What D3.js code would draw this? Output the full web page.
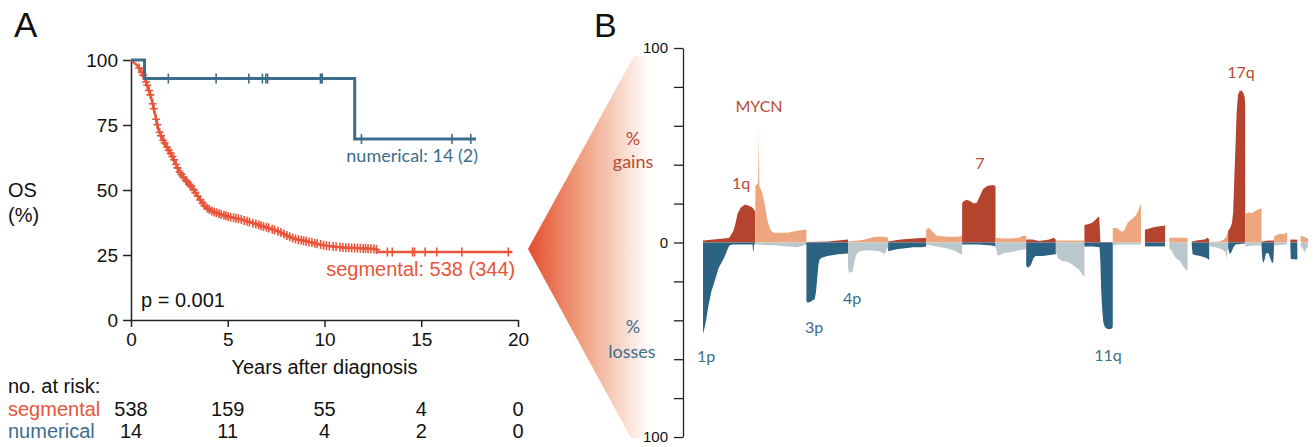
<!DOCTYPE html>
<html>
<head>
<meta charset="utf-8">
<script src="https://cdnjs.cloudflare.com/ajax/libs/d3/7.8.5/d3.min.js"></script>
<style>
	body { margin: 0; background: #fff; }
	svg text { font-family: "Liberation Sans", Arial, sans-serif; fill: #111; }
	svg text.hum { font-family: Lato, "Open Sans", sans-serif; }
</style>
</head>
<body>
<svg id="chart" width="1314" height="447"></svg>
<script>
// ---------- panel A : Kaplan-Meier ----------
var osTicks = [0, 25, 50, 75, 100];
var yearTicks = [0, 5, 10, 15, 20];

// segmental curve (years, OS %)
var segTimes = [0, 0.15, 0.34, 0.5, 0.7, 0.9, 1.05, 1.25, 1.4, 1.6, 1.93, 2.1, 2.28, 2.46, 2.8, 3.16, 3.5, 3.87,
	4.2, 4.57, 5.1, 5.63, 6.2, 6.69, 7.2, 7.74, 8.1, 8.45, 9.0, 9.5, 10.03, 10.9, 11.8, 12.67, 12.74, 19.7];
var segSurv = [100, 99, 97.8, 96, 93.2, 89, 85.4, 79, 73.7, 70, 65.5, 63.5, 60.7, 57.4, 54, 51, 47, 43.3,
	41.8, 40.8, 39.6, 38.8, 37.5, 36.3, 35.2, 33.7, 32.3, 31.2, 30.4, 29.5, 28.6, 27.9, 27.6, 27.3, 26.2, 26.2];
var segCensor = [0.42, 0.55, 0.63, 0.78, 0.84, 0.93, 1.0, 1.12, 1.18, 1.3, 1.36, 1.48, 1.55, 1.67, 1.74, 1.86,
	1.95, 2.05, 2.14, 2.22, 2.33, 2.4, 2.52, 2.6, 2.71, 2.83, 2.9, 3.02, 3.1, 3.24, 3.33, 3.45, 3.58, 3.7, 3.8,
	3.95, 4.05, 4.18, 4.3, 4.42, 4.55, 4.66, 4.8, 4.9, 5.02, 5.15, 5.3, 5.42, 5.55, 5.7, 5.85, 6.0, 6.12, 6.3,
	6.45, 6.6, 6.72, 6.85, 7.0, 7.12, 7.3, 7.42, 7.6, 7.75, 7.9, 8.05, 8.2, 8.35, 8.5, 8.65, 8.8, 8.92, 9.05,
	9.2, 9.35, 9.5, 9.62, 9.8, 9.95, 10.1, 10.25, 10.45, 10.6, 10.8, 10.95, 11.1, 11.25, 11.4, 11.55, 11.7,
	11.85, 12.0, 12.12, 12.25, 12.4, 12.55, 12.68, 13.25, 13.5, 14.55, 14.65, 15.2, 15.8, 17.1, 19.5];

// numerical curve (step function)
var numTimes = [0, 0.70, 11.56, 17.83];
var numSurv = [100, 92.86, 69.64, 69.64];
var numCensor = [1.93, 4.4, 6.09, 6.79, 6.97, 7.06, 9.79, 9.84, 9.88, 11.91, 16.59, 17.56];

var riskGroups = ["segmental", "numerical"];
var riskSegmental = [538, 159, 55, 4, 0];
var riskNumerical = [14, 11, 4, 2, 0];

// ---------- panel B : copy number profile ----------
var chromNames = ["1", "2", "3", "4", "5", "6", "7", "8", "9", "10", "11",
	"12", "13", "14", "15", "16", "17", "18", "19", "20", "21", "22"];
var chromLengths = [249, 243, 198, 191, 181, 171, 159, 146, 141, 136, 135,
	134, 115, 107, 103, 90, 81, 78, 59, 63, 48, 51];
var cnaTicks = [-100, -80, -60, -40, -20, 0, 20, 40, 60, 80, 100];

// % gains per chromosome, [Mb, %]
var gainProfile = [
	[[0,1],[50,1.5],[100,2],[125,2.5],[145,6],[155,10],[165,15],[180,18],[200,19.5],[215,19],[235,18],[249,16]],
	[[0,29],[8,30],[13,31],[15,45],[16,62],[17,45],[19,29],[32,26],[40,22],[48,18],[56,12],[72,6.5],[86,5],[105,5],[153,5],[200,6],[243,6.7]],
	[[0,0.3],[100,0.5],[150,1],[198,1.5]],
	[[0,0.5],[50,1],[80,1.5],[110,2.5],[130,3],[170,3],[191,2.5]],
	[[0,0.5],[30,1],[60,1.5],[120,2],[181,2.5]],
	[[0,6.5],[10,7.5],[20,7],[35,5],[50,3.5],[100,3],[150,3],[171,3.5]],
	[[0,20],[5,21],[20,22],[35,21.5],[55,20],[70,20.5],[85,24],[100,27.5],[120,29],[145,29.5],[159,29]],
	[[0,2.5],[30,2],[70,2],[110,2.5],[130,3.5],[146,3.5]],
	[[0,1.5],[30,1.5],[60,0.8],[110,1.5],[130,2.5],[141,1.5]],
	[[0,1],[136,1]],
	[[0,9],[20,9.5],[35,10],[55,12],[65,13],[70,13.5],[73,8],[76,0.3],[135,0.3]],
	[[0,7.5],[20,7.5],[35,6],[45,5.5],[57,6.5],[70,10],[95,12.5],[110,14],[120,16],[128,18.5],[134,19.5]],
	[[19,6.5],[40,7.2],[60,7.8],[90,8.4],[115,8.8]],
	[[20,2.5],[107,2.4]],
	[[20,0.5],[50,1.2],[80,1.5],[95,2.5],[103,1.5]],
	[[0,0.2],[50,0.5],[70,1.5],[80,3],[88,5],[90,5]],
	[[0,6],[10,7.5],[18,10],[24,16],[30,35],[35,50],[41,68],[47,76],[55,78],[65,78],[72,77],[78,75],[81,72]],
	[[0,14.5],[15,15.5],[30,15],[45,16],[60,17],[75,17.5],[78,17.5]],
	[[0,0.5],[30,1],[59,1]],
	[[0,3],[15,4],[30,4.5],[45,4.2],[63,5]],
	[[15,1.5],[48,1.5]],
	[[16,3.5],[30,3],[51,2]]
];

// % losses per chromosome, [Mb, %]
var lossProfile = [
	[[0,47],[5,45],[15,40],[25,33],[40,25],[55,20],[75,13],[100,8],[115,4],[125,1.5],[140,1],[236,1],[238,4.5],[241,4.5],[243,1],[249,0.5]],
	[[0,1],[100,1.5],[160,2],[200,2.5],[230,1.5],[243,1]],
	[[0,30],[5,31],[20,30.5],[40,29],[46,25],[52,18],[57,12],[62,9],[70,8],[100,7],[150,6],[198,5.7]],
	[[0,13],[5,15.5],[22,15],[30,10],[40,6],[55,4.5],[100,4],[150,4.5],[175,6],[185,3],[191,3]],
	[[0,4.5],[20,4],[40,3.5],[80,3],[120,2.5],[160,2.5],[181,2]],
	[[0,1],[50,2],[100,3],[140,4.5],[165,6],[171,6]],
	[[0,1],[80,1],[140,1.5],[159,2]],
	[[0,2],[10,6.5],[20,6.5],[35,5.5],[70,5],[110,4],[146,3.5]],
	[[0,12],[8,13],[20,12],[28,10],[35,8],[45,7],[80,7],[136,6],[141,6]],
	[[0,5],[10,8],[30,9.5],[60,10],[80,11.5],[110,14],[130,17],[136,17.5]],
	[[0,2],[40,2],[72,2.5],[76,10],[80,25],[85,35],[90,41],[97,43.5],[110,44.5],[125,44.5],[133,44],[135,43]],
	[[0,1.5],[30,1],[134,1]],
	[[19,2],[115,2]],
	[[20,3],[30,4],[50,8],[70,9.5],[90,13],[107,14.5]],
	[[20,2],[24,6],[40,6.5],[60,7],[90,8],[103,9]],
	[[0,2],[30,2.5],[60,3.5],[78,5],[83,8.5],[86,5],[90,2]],
	[[0,3],[8,6],[15,5],[25,2.5],[35,1],[81,0.5]],
	[[0,2],[40,1.5],[78,1.5]],
	[[0,2],[4,9],[10,10.5],[16,8],[21,5.5],[33,5.5],[41,8],[50,10.5],[56,10],[59,3]],
	[[0,1.5],[63,1]],
	[[15,2],[17,8.5],[48,8.8]],
	[[16,1.5],[25,3],[35,5],[45,3],[51,2]]
];

var colors = {
	seg: "#e8553a", num: "#3c6d8d",
	gainDark: "#b5442e", gainLight: "#eea67e",
	lossDark: "#2d6382", lossLight: "#bac7cd",
	gainText: "#b94a34", lossText: "#3e6d8c"
};

var svg = d3.select("#chart");

drawKaplanMeier();
drawFan();
drawProfile();

function drawKaplanMeier(){
	var x = d3.scaleLinear().domain([0, 20]).range([131, 518]);
	var y = d3.scaleLinear().domain([0, 100]).range([320, 60]);
	var g = svg.append("g");

	//axes
	var yAxis = g.append("g")
		.attr("transform", "translate(" + x(0) + ",0)")
		.call(d3.axisLeft(y).tickValues(osTicks).tickSize(8).tickSizeOuter(0).tickPadding(5));
	var xAxis = g.append("g")
		.attr("transform", "translate(0," + y(0) + ")")
		.call(d3.axisBottom(x).tickValues(yearTicks).tickSize(7).tickSizeOuter(0).tickPadding(6));
	[yAxis, xAxis].forEach(function(a){
		a.selectAll("path, line").attr("stroke", "#222").attr("stroke-width", 1.5);
		a.selectAll("text").attr("font-size", 19).attr("fill", "#111")
			.attr("font-family", '"Liberation Sans", Arial, sans-serif');
	});

	g.append("text").attr("x", 8).attr("y", 197).attr("font-size", 20).text("OS");
	g.append("text").attr("x", 8).attr("y", 222).attr("font-size", 20).text("(%)");
	g.append("text").attr("x", x(10)).attr("y", 374).attr("font-size", 20)
		.attr("text-anchor", "middle").text("Years after diagnosis");
	g.append("text").attr("x", 141).attr("y", 307).attr("font-size", 20).text("p = 0.001");

	// segmental
	var segPts = d3.zip(segTimes, segSurv);
	var segAt = d3.scaleLinear().domain(segTimes).range(segSurv);
	g.append("path").datum(segPts)
		.attr("fill", "none").attr("stroke", colors.seg).attr("stroke-width", 2.5)
		.attr("d", d3.line().x(function(d){ return x(d[0]); }).y(function(d){ return y(d[1]); }));
	g.selectAll(".segmark").data(segCensor).enter().append("path")
		.attr("class", "segmark")
		.attr("d", "M-4,0H4M0,-4.5V4.5")
		.attr("stroke", colors.seg).attr("stroke-width", 1.6)
		.attr("transform", function(t){ return "translate(" + x(t) + "," + y(segAt(t)) + ")"; });

	// numerical
	var numPts = d3.zip(numTimes, numSurv);
	var numAt = function(t){ return numSurv[d3.bisectRight(numTimes, t) - 1]; };
	g.append("path").datum(numPts)
		.attr("fill", "none").attr("stroke", colors.num).attr("stroke-width", 3)
		.attr("d", d3.line().curve(d3.curveStepAfter)
			.x(function(d){ return x(d[0]); }).y(function(d){ return y(d[1]); }));
	g.selectAll(".nummark").data(numCensor).enter().append("path")
		.attr("class", "nummark")
		.attr("d", "M0,-5V5")
		.attr("stroke", colors.num).attr("stroke-width", 1.6)
		.attr("transform", function(t){ return "translate(" + x(t) + "," + y(numAt(t)) + ")"; });

	g.append("text").attr("class", "hum")
		.attr("x", x(numTimes[numTimes.length - 1]) + 2).attr("y", 162)
		.attr("text-anchor", "end").attr("font-size", 18).style("fill", colors.num)
		.text("numerical: 14 (2)");
	g.append("text")
		.attr("x", x(segTimes[segTimes.length - 1]) + 3).attr("y", 276)
		.attr("text-anchor", "end").attr("font-size", 20).style("fill", colors.seg)
		.text("segmental: 538 (344)");

	// numbers at risk
	g.append("text").attr("x", 8).attr("y", 393).attr("font-size", 20).text("no. at risk:");
	var rows = [riskSegmental, riskNumerical];
	var rowColor = [colors.seg, colors.num];
	rows.forEach(function(vals, r){
		var ry = 416 + r * 22;
		g.append("text").attr("x", 8).attr("y", ry).attr("font-size", 20)
			.style("fill", rowColor[r]).text(riskGroups[r]);
		g.selectAll(".risk" + r).data(vals).enter().append("text")
			.attr("class", "risk" + r)
			.attr("x", function(d, i){ return x(yearTicks[i]); })
			.attr("y", ry).attr("font-size", 20).attr("text-anchor", "middle")
			.text(function(d){ return d; });
	});

	svg.append("text").attr("x", 14).attr("y", 37).attr("font-size", 35).text("A");
}

//gradient wedge linking the segmental group to panel B
function drawFan(){
	var grad = svg.append("defs").append("linearGradient")
		.attr("id", "fanGrad").attr("gradientUnits", "userSpaceOnUse")
		.attr("x1", 528).attr("y1", 0).attr("x2", 650).attr("y2", 0);
	grad.append("stop").attr("offset", "0%").attr("stop-color", "#e34e2c");
	grad.append("stop").attr("offset", "45%").attr("stop-color", "#f0a283");
	grad.append("stop").attr("offset", "100%").attr("stop-color", "#ffffff");
	svg.append("path")
		.attr("d", "M528,249L634,56L660,56L660,438L631,438Z")
		.attr("fill", "url(#fanGrad)");
}

function drawProfile(){
	var offsets = [0].concat(Array.from(d3.cumsum(chromLengths)));
	var gx = d3.scaleLinear().domain([0, d3.sum(chromLengths)]).range([703, 1308]);
	var gy = d3.scaleLinear().domain([-100, 100]).range([437, 48]);
	var g = svg.append("g");

	var axis = g.append("g")
		.attr("transform", "translate(683,0)")
		.call(d3.axisLeft(gy).tickValues(cnaTicks).tickSize(9).tickSizeOuter(0).tickPadding(6)
			.tickFormat(function(d){ return d % 100 === 0 ? Math.abs(d) : ""; }));
	axis.selectAll("path, line").attr("stroke", "#222").attr("stroke-width", 1.3);
	axis.selectAll("text").attr("font-size", 15).attr("fill", "#111")
		.attr("font-family", 'Lato, "Open Sans", sans-serif');

	chromNames.forEach(function(name, i){
		var odd = i % 2 === 0;
		var xf = function(d){ return gx(offsets[i] + d[0]); };
		g.append("path").datum(gainProfile[i])
			.attr("fill", odd ? colors.gainDark : colors.gainLight)
			.attr("d", d3.area().x(xf).y0(gy(0)).y1(function(d){ return gy(d[1]); }));
		g.append("path").datum(lossProfile[i])
			.attr("fill", odd ? colors.lossDark : colors.lossLight)
			.attr("d", d3.area().x(xf).y0(gy(0)).y1(function(d){ return gy(-d[1]); }));
	});

	var labels = [
		{t: "MYCN", x: 759, y: 112, c: colors.gainText},
		{t: "1q", x: 741, y: 189, c: colors.gainText},
		{t: "7", x: 980, y: 169, c: colors.gainText},
		{t: "17q", x: 1241, y: 78, c: colors.gainText},
		{t: "1p", x: 706, y: 362, c: colors.lossText},
		{t: "3p", x: 814, y: 333, c: colors.lossText},
		{t: "4p", x: 852, y: 304, c: colors.lossText},
		{t: "11q", x: 1108, y: 361, c: colors.lossText},
		{t: "%", x: 633, y: 145, c: colors.gainText, s: 18},
		{t: "gains", x: 633, y: 168, c: colors.gainText, s: 18},
		{t: "%", x: 633, y: 333, c: colors.lossText, s: 18},
		{t: "losses", x: 632, y: 358, c: colors.lossText, s: 18}
	];
	g.selectAll(".lab").data(labels).enter().append("text")
		.attr("class", "lab hum")
		.attr("x", function(d){ return d.x; }).attr("y", function(d){ return d.y; })
		.attr("text-anchor", "middle").attr("font-size", function(d){ return d.s || 16; })
		.style("fill", function(d){ return d.c; })
		.text(function(d){ return d.t; });

	svg.append("text").attr("x", 594).attr("y", 37).attr("font-size", 34).text("B");
}
</script>
</body>
</html>
